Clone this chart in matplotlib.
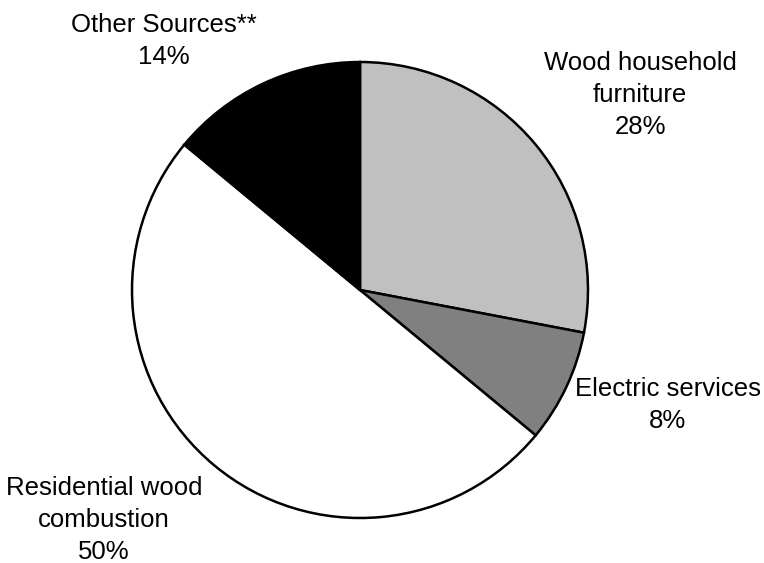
import matplotlib.pyplot as plt

# emission shares by source, clockwise from 12 o'clock
sources = ["Wood household\nfurniture", "Electric services",
           "Residential wood\ncombustion", "Other Sources**"]
shares = [28, 8, 50, 14]
slice_colors = ["#C0C0C0", "#808080", "#FFFFFF", "#000000"]

# where each label block sits (pixel coords, y measured up from bottom)
label_xy = [(640, 468), (668, 158), (104, 43), (164, 522)]

plt.rcParams['font.family'] = ['Liberation Sans', 'DejaVu Sans']

fig = plt.figure(figsize=(7.64, 5.63), dpi=100)
ax = fig.add_axes([0, 0, 1, 1])

ax.pie(shares, colors=slice_colors, startangle=90, counterclock=False,
       center=(360, 273), radius=228, frame=True,
       wedgeprops=dict(edgecolor='black', linewidth=1.8))
ax.set_xlim(0, 764)
ax.set_ylim(0, 563)
ax.axis('off')

for name, pct, (x, y) in zip(sources, shares, label_xy):
    ax.text(x, y, f"{name}\n{pct}%", ha='center', va='center',
            fontsize=18.5, linespacing=1.42)

plt.savefig("out.png", dpi=100, facecolor='white')
